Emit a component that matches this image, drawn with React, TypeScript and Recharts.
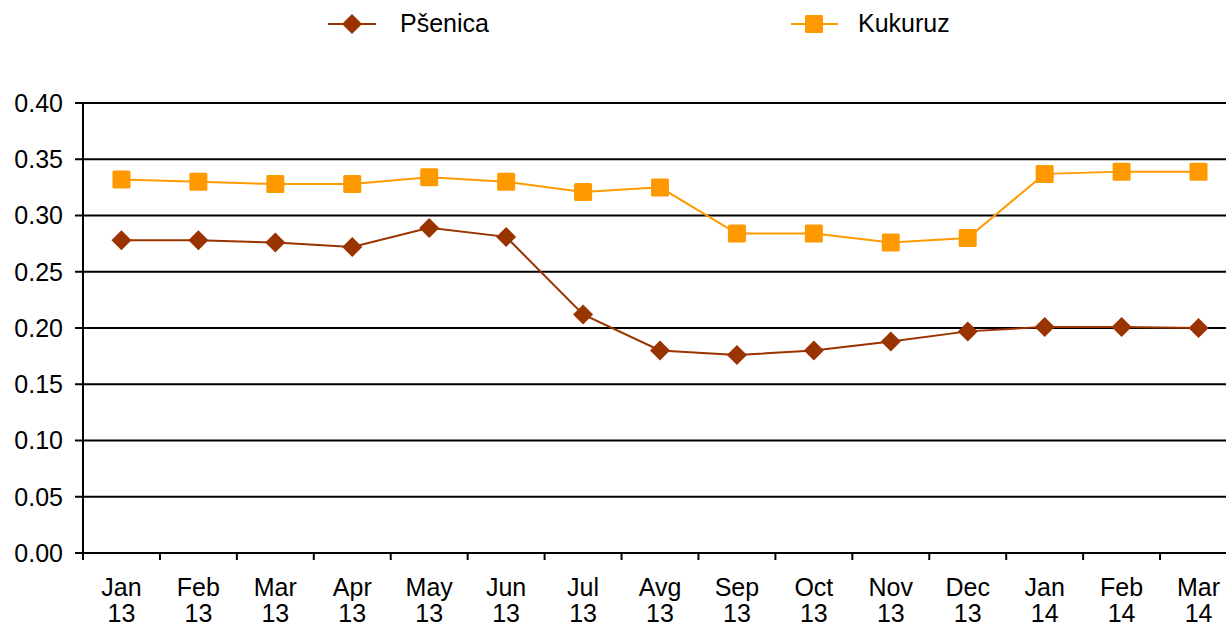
import { LineChart, Line, XAxis, YAxis, CartesianGrid, Legend } from 'recharts';

const months = ['Jan', 'Feb', 'Mar', 'Apr', 'May', 'Jun', 'Jul', 'Avg', 'Sep', 'Oct', 'Nov', 'Dec', 'Jan', 'Feb', 'Mar'];
const years = ['13', '13', '13', '13', '13', '13', '13', '13', '13', '13', '13', '13', '14', '14', '14'];
const psenica = [0.278, 0.278, 0.276, 0.272, 0.289, 0.281, 0.212, 0.180, 0.176, 0.180, 0.188, 0.197, 0.201, 0.201, 0.200];
const kukuruz = [0.332, 0.330, 0.328, 0.328, 0.334, 0.330, 0.321, 0.325, 0.284, 0.284, 0.276, 0.280, 0.337, 0.339, 0.339];
const yTicks = [0, 0.05, 0.1, 0.15, 0.2, 0.25, 0.3, 0.35, 0.4];

const BROWN = '#993300';
const ORANGE = '#FF9900';
const FONT = '"Liberation Sans", Arial, sans-serif';
const FS = 25;

const data = months.map((m, i) => ({ x: i + 0.5, psenica: psenica[i], kukuruz: kukuruz[i] }));
const edges = months.map((_, i) => i).concat(months.length);

const W = 1245;
const LEFT = 83;
const RIGHT = 8;
const half = (W - RIGHT - LEFT) / months.length / 2;

const Diamond = (props: any) => {
  const { cx, cy } = props;
  if (cx == null || cy == null) return null;
  const r = 10;
  return <path d={`M${cx},${cy - r}L${cx + r},${cy}L${cx},${cy + r}L${cx - r},${cy}Z`} fill={BROWN} />;
};

const Square = (props: any) => {
  const { cx, cy } = props;
  if (cx == null || cy == null) return null;
  const s = 9;
  return <rect x={cx - s} y={cy - s} width={2 * s} height={2 * s} rx={1.5} fill={ORANGE} />;
};

// two-line month/year label centred between the boundary ticks
const XTick = (props: any) => {
  const { x, y, payload } = props;
  const i = payload.value;
  if (i >= months.length) return null;
  return (
    <g>
      <text x={x + half} y={y + 34} textAnchor="middle" fontSize={FS} fontFamily={FONT} fill="#000">{months[i]}</text>
      <text x={x + half} y={y + 60} textAnchor="middle" fontSize={FS} fontFamily={FONT} fill="#000">{years[i]}</text>
    </g>
  );
};

const LegendBox = () => (
  <div style={{ position: 'relative', height: 50, fontFamily: FONT, fontSize: FS }}>
    <svg width={60} height={30} style={{ position: 'absolute', left: 327, top: 9 }}>
      <line x1={1} y1={15} x2={49} y2={15} stroke={BROWN} strokeWidth={2} />
      <Diamond cx={25} cy={15} />
    </svg>
    <span style={{ position: 'absolute', left: 400, top: 9 }}>Pšenica</span>
    <svg width={60} height={30} style={{ position: 'absolute', left: 790, top: 9 }}>
      <line x1={1} y1={15} x2={48} y2={15} stroke={ORANGE} strokeWidth={2} />
      <Square cx={24} cy={15} />
    </svg>
    <span style={{ position: 'absolute', left: 858, top: 9 }}>Kukuruz</span>
  </div>
);

export default function App() {
  return (
    <div style={{ position: 'fixed', top: 0, left: 0, width: 1226, height: 626, overflow: 'hidden', background: '#fff' }}>
      <LineChart width={W} height={626} data={data} margin={{ top: 53, right: RIGHT, left: 0, bottom: 0 }}>
        <Legend verticalAlign="top" content={<LegendBox />} wrapperStyle={{ top: 0, left: 0, width: 1226, height: 50 }} />
        <CartesianGrid vertical={false} stroke="#000" strokeWidth={2} />
        <XAxis
          type="number"
          dataKey="x"
          domain={[0, months.length]}
          ticks={edges}
          interval={0}
          height={73}
          stroke="#000"
          strokeWidth={2}
          tickSize={7}
          tick={<XTick />}
        />
        <YAxis
          domain={[0, 0.4]}
          ticks={yTicks}
          width={LEFT}
          stroke="#000"
          strokeWidth={2}
          tickSize={8}
          tickMargin={12}
          tickFormatter={(v: number) => v.toFixed(2)}
          tick={{ fontSize: FS, fontFamily: FONT, fill: '#000' }}
        />
        <Line dataKey="psenica" stroke={BROWN} strokeWidth={2} dot={<Diamond />} activeDot={false} isAnimationActive={false} />
        <Line dataKey="kukuruz" stroke={ORANGE} strokeWidth={2} dot={<Square />} activeDot={false} isAnimationActive={false} />
      </LineChart>
    </div>
  );
}
